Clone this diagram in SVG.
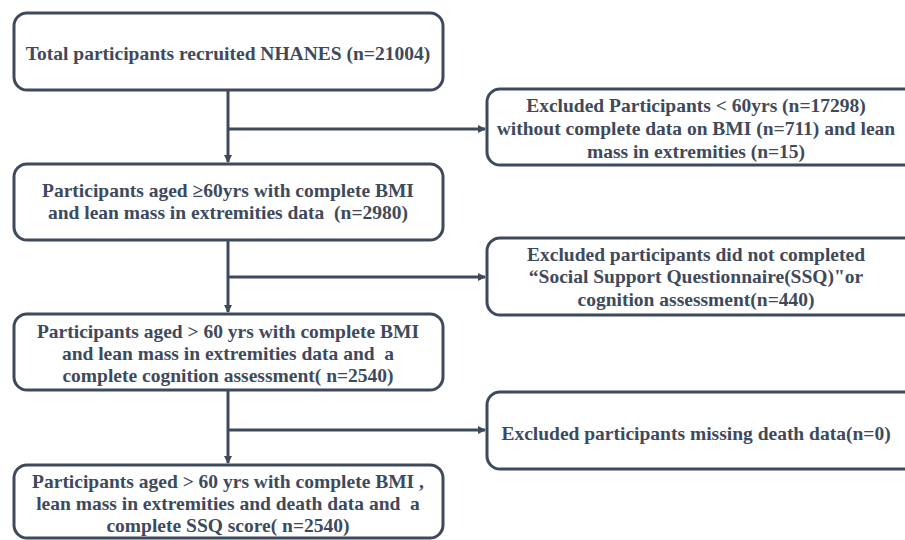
<svg xmlns="http://www.w3.org/2000/svg" width="905" height="540" viewBox="0 0 905 540" xml:space="preserve">
<style>
.box{fill:#fff;stroke:#3e4a5c;stroke-width:3}
.t{font-family:"Liberation Serif","Times New Roman",serif;font-weight:bold;font-size:19.5px;fill:#3e4a5c;text-anchor:middle;white-space:pre}
.c{stroke:#3e4a5c;stroke-width:3;fill:none}
</style>
<defs>
<marker id="ah" markerWidth="8" markerHeight="8" refX="7" refY="4" orient="auto" markerUnits="userSpaceOnUse"><path d="M0,0 L8,4 L0,8 Z" fill="#3e4a5c"/></marker>
</defs>
<rect width="905" height="540" fill="#fff"/>
<g id="connectors">
<path class="c" d="M228,90 V162" marker-end="url(#ah)"/>
<path class="c" d="M228,129 H485" marker-end="url(#ah)"/>
<path class="c" d="M228,240 V312" marker-end="url(#ah)"/>
<path class="c" d="M228,277 H485" marker-end="url(#ah)"/>
<path class="c" d="M228,390 V463" marker-end="url(#ah)"/>
<path class="c" d="M228,430 H485" marker-end="url(#ah)"/>
</g>
<g id="n1"><rect class="box" x="14" y="13" width="429" height="77" rx="13"/>
<text class="t" x="228" y="60">Total participants recruited NHANES (n=21004)</text></g>
<g id="n2"><rect class="box" x="14" y="164" width="429" height="76" rx="13"/>
<text class="t" x="228" y="197">Participants aged ≥60yrs with complete BMI</text>
<text class="t" x="228" y="219">and lean mass in extremities data  (n=2980)</text></g>
<g id="n3"><rect class="box" x="14" y="314" width="429" height="76" rx="13"/>
<text class="t" x="228" y="338">Participants aged &gt; 60 yrs with complete BMI</text>
<text class="t" x="228" y="360">and lean mass in extremities data and  a</text>
<text class="t" x="228" y="382">complete cognition assessment( n=2540)</text></g>
<g id="n4"><rect class="box" x="14" y="465" width="429" height="73" rx="13"/>
<text class="t" x="228" y="488">Participants aged &gt; 60 yrs with complete BMI ,</text>
<text class="t" x="228" y="510">lean mass in extremities and death data and  a</text>
<text class="t" x="228" y="532">complete SSQ score( n=2540)</text></g>
<g id="e1"><rect class="box" x="487" y="89" width="430" height="76" rx="13"/>
<text class="t" x="696" y="112">Excluded Participants &lt; 60yrs (n=17298)</text>
<text class="t" x="696" y="135">without complete data on BMI (n=711) and lean</text>
<text class="t" x="696" y="158">mass in extremities (n=15)</text></g>
<g id="e2"><rect class="box" x="487" y="238" width="430" height="77" rx="13"/>
<text class="t" x="696" y="261">Excluded participants did not completed</text>
<text class="t" x="696" y="283">“Social Support Questionnaire(SSQ)"or</text>
<text class="t" x="696" y="306">cognition assessment(n=440)</text></g>
<g id="e3"><rect class="box" x="487" y="392" width="430" height="77" rx="13"/>
<text class="t" x="696" y="440">Excluded participants missing death data(n=0)</text></g>
</svg>
